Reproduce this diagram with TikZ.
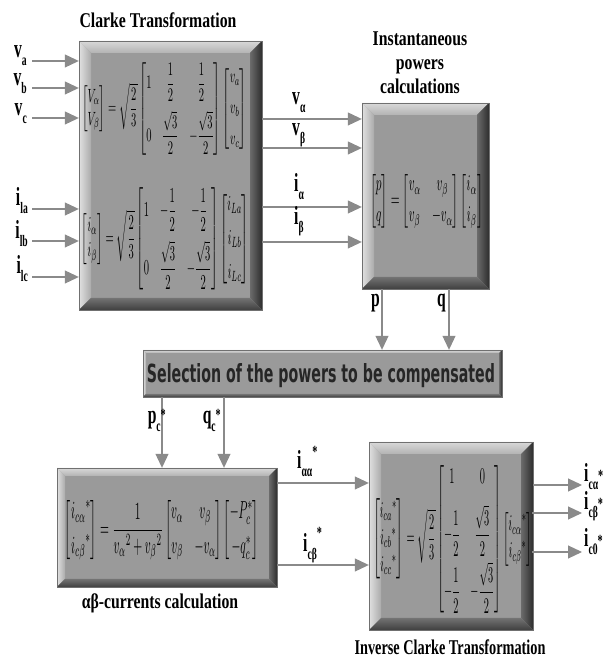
\documentclass[tikz,border=0pt]{standalone}
\usepackage{fontspec}
\setmainfont{Liberation Serif}
\newfontfamily\selfont{DejaVu Sans}
\usepackage{amsmath}
\usepackage{graphicx}
\usetikzlibrary{arrows.meta}

\definecolor{facegray}{HTML}{9A9A9A}
\definecolor{rimgray}{HTML}{707070}
\definecolor{arrgray}{HTML}{8A8A8A}

\newcommand{\squeeze}[2][0.75]{\scalebox{#1}[1]{#2}}
\newcommand{\lbl}[3]{\scalebox{0.6}[1]{\fontsize{26}{26}\selectfont\bfseries #1\raisebox{-8pt}{\fontsize{16}{16}\selectfont #2}#3}}
\newcommand{\upstar}[1]{\raisebox{#1}{\fontsize{17}{17}\selectfont *}}

\tikzset{
  bevel/.style={draw=rimgray, fill=facegray, inner sep=0pt, path picture={
    \coordinate (oNW) at (path picture bounding box.north west);
    \coordinate (oNE) at (path picture bounding box.north east);
    \coordinate (oSW) at (path picture bounding box.south west);
    \coordinate (oSE) at (path picture bounding box.south east);
    \coordinate (iNW) at ([shift={(#1,-#1)}]oNW);
    \coordinate (iNE) at ([shift={(-#1,-#1)}]oNE);
    \coordinate (iSW) at ([shift={(#1,#1)}]oSW);
    \coordinate (iSE) at ([shift={(-#1,#1)}]oSE);
    \shade[top color=black!15, bottom color=black!30] (oNW) -- (oNE) -- (iNE) -- (iNW) -- cycle;
    \shade[left color=black!12, right color=black!33] (oNW) -- (iNW) -- (iSW) -- (oSW) -- cycle;
    \shade[left color=black!58, right color=black!82] (oNE) -- (iNE) -- (iSE) -- (oSE) -- cycle;
    \shade[top color=black!55, bottom color=black!75] (oSW) -- (iSW) -- (iSE) -- (oSE) -- cycle;
  }},
  arr/.style={draw=arrgray, line width=1.1pt, -{Triangle[length=14pt,width=13pt]}},
  ttl/.style={font=\fontsize{21}{24}\selectfont\bfseries, inner sep=0pt},
  lb/.style={inner sep=0pt},
  mtx/.style={inner sep=0pt},
}

\begin{document}
\begin{tikzpicture}[x=1pt,y=1pt]
\useasboundingbox (0,0) rectangle (609,658);

% blocks
\node[bevel=12, minimum width=183, minimum height=269] (clarke) at (170.5,482.5) {};
\node[bevel=12, minimum width=127, minimum height=186] (inst) at (425.5,462) {};
\node[bevel=3, minimum width=359, minimum height=47] (sel) at (322.5,284.5) {};
\node[bevel=8, minimum width=220, minimum height=119] (abcur) at (167,130.5) {};
\node[bevel=12, minimum width=164, minimum height=188] (inv) at (451,122) {};

% equations
\node[mtx] (mclarkev) at (164.5,549) {\resizebox*{165pt}{92pt}{$\begin{bmatrix}V_\alpha\\V_\beta\end{bmatrix}=\sqrt{\dfrac{2}{3}}\begin{bmatrix}1&\dfrac12&\dfrac12\\[8pt]0&\dfrac{\sqrt3}{2}&-\dfrac{\sqrt3}{2}\end{bmatrix}\begin{bmatrix}v_a\\[4pt]v_b\\[4pt]v_c\end{bmatrix}$}};
\node[mtx] (mclarkei) at (165.5,419) {\resizebox*{167pt}{102pt}{$\begin{bmatrix}i_\alpha\\i_\beta\end{bmatrix}=\sqrt{\dfrac{2}{3}}\begin{bmatrix}1&-\dfrac12&-\dfrac12\\[8pt]0&\dfrac{\sqrt3}{2}&-\dfrac{\sqrt3}{2}\end{bmatrix}\begin{bmatrix}i_{La}\\[4pt]i_{Lb}\\[4pt]i_{Lc}\end{bmatrix}$}};
\node[mtx] (mpq) at (426.5,457) {\resizebox*{113pt}{58pt}{$\begin{bmatrix}p\\[2pt]q\end{bmatrix}=\begin{bmatrix}v_\alpha&v_\beta\\[2pt]v_\beta&-v_\alpha\end{bmatrix}\begin{bmatrix}i_\alpha\\[2pt]i_\beta\end{bmatrix}$}};
\node[mtx] (mabcur) at (162,128) {\resizebox*{194pt}{64pt}{$\begin{bmatrix}{i_{c\alpha}}^{*}\\[2pt]{i_{c\beta}}^{*}\end{bmatrix}=\dfrac{1}{{v_\alpha}^{2}+{v_\beta}^{2}}\begin{bmatrix}v_\alpha&v_\beta\\[2pt]v_\beta&-v_\alpha\end{bmatrix}\begin{bmatrix}-P_c^*\\[2pt]-q_c^*\end{bmatrix}$}};
\node[mtx] (minv) at (452.5,119) {\resizebox*{159pt}{148pt}{$\begin{bmatrix}{i_{ca}}^{*}\\{i_{cb}}^{*}\\{i_{cc}}^{*}\end{bmatrix}=\sqrt{\dfrac{2}{3}}\begin{bmatrix}1&0\\[6pt]-\dfrac12&\dfrac{\sqrt3}{2}\\[6pt]-\dfrac12&-\dfrac{\sqrt3}{2}\end{bmatrix}\begin{bmatrix}{i_{c\alpha}}^{*}\\{i_{c\beta}}^{*}\end{bmatrix}$}};
\node[mtx, anchor=base] (tsel) at (321,275) {\resizebox{348pt}{19pt}{\selfont\bfseries\color{black!85}Selection of the powers to be compensated}};

% titles
\node[ttl] (tclarke) at (158,638) {\squeeze{Clarke Transformation}};
\node[ttl] (tinst) at (420,593) {\squeeze{\begin{tabular}{@{}c@{}}Instantaneous\\powers\\calculations\end{tabular}}};
\node[ttl] (tabcur) at (160,55) {\squeeze{αβ-currents calculation}};
\node[ttl] (tinv) at (450,11) {\squeeze[0.68]{Inverse Clarke Transformation}};

% inputs
\coordinate (va) at (32,597);
\coordinate (vb) at (32,570);
\coordinate (vc) at (32,540);
\coordinate (ila) at (32,449);
\coordinate (ilb) at (32,417);
\coordinate (ilc) at (32,381);
\draw[arr] (va) -- (va -| clarke.west);
\draw[arr] (vb) -- (vb -| clarke.west);
\draw[arr] (vc) -- (vc -| clarke.west);
\draw[arr] (ila) -- (ila -| clarke.west);
\draw[arr] (ilb) -- (ilb -| clarke.west);
\draw[arr] (ilc) -- (ilc -| clarke.west);
\node[lb, anchor=base east] (lva) at ([shift={(-5,3)}]va) {\lbl{v}{a}{}};
\node[lb, anchor=base east] (lvb) at ([shift={(-5,2)}]vb) {\lbl{v}{b}{}};
\node[lb, anchor=base east] (lvc) at ([shift={(-5,2)}]vc) {\lbl{v}{c}{}};
\node[lb, anchor=base east] (lila) at ([shift={(-4,3)}]ila) {\lbl{i}{la}{}};
\node[lb, anchor=base east] (lilb) at ([shift={(-4,2)}]ilb) {\lbl{i}{lb}{}};
\node[lb, anchor=base east] (lilc) at ([shift={(-4,3)}]ilc) {\lbl{i}{lc}{}};

% clarke -> powers
\draw[arr] (clarke.east |- 0,539) -- (inst.west |- 0,539);
\draw[arr] (clarke.east |- 0,510) -- (inst.west |- 0,510);
\draw[arr] (clarke.east |- 0,451) -- (inst.west |- 0,451);
\draw[arr] (clarke.east |- 0,416) -- (inst.west |- 0,416);
\node[lb, anchor=base west] (lvalpha) at (292,553) {\lbl{v}{α}{}};
\node[lb, anchor=base west] (lvbeta) at (292,522) {\lbl{v}{β}{}};
\node[lb, anchor=base west] (lialpha) at (294,466) {\lbl{i}{α}{}};
\node[lb, anchor=base west] (libeta) at (294,433) {\lbl{i}{β}{}};

% powers -> selection -> currents
\draw[arr] (inst.south -| 382,0) -- (sel.north -| 382,0);
\draw[arr] (inst.south -| 449,0) -- (sel.north -| 449,0);
\node[lb, anchor=base east] (lp) at (380,351) {\lbl{p}{}{}};
\node[lb, anchor=base east] (lq) at (446,351) {\lbl{q}{}{}};
\draw[arr] (sel.south -| 162,0) -- (abcur.north -| 162,0);
\draw[arr] (sel.south -| 224,0) -- (abcur.north -| 224,0);
\node[lb, anchor=base east] (lpc) at (166,234) {\lbl{p}{c}{\upstar{3pt}}};
\node[lb, anchor=base east] (lqc) at (221,234) {\lbl{q}{c}{\upstar{3pt}}};

% currents -> inverse clarke
\draw[arr] (abcur.east |- 0,175) -- (inv.west |- 0,175);
\draw[arr] (abcur.east |- 0,93) -- (inv.west |- 0,93);
\node[lb, anchor=base west] (liaa) at (297,189) {\lbl{i}{αα}{\upstar{11pt}}};
\node[lb, anchor=base west] (licb) at (303,106) {\lbl{i}{cβ}{\upstar{13pt}}};

% outputs
\coordinate (oca) at (582,173);
\coordinate (ocb) at (582,145);
\coordinate (occ) at (582,106);
\draw[arr] (inv.east |- oca) -- (oca);
\draw[arr] ([xshift=-1]inv.east |- ocb) -- (ocb);
\draw[arr] ([xshift=-1]inv.east |- occ) -- (occ);
\node[lb, anchor=base west] (loca) at ([shift={(2,3)}]oca) {\lbl{i}{cα}{\upstar{0pt}}};
\node[lb, anchor=base west] (locb) at ([shift={(2,3)}]ocb) {\lbl{i}{cβ}{\upstar{0pt}}};
\node[lb, anchor=base west] (locc) at ([shift={(2,5)}]occ) {\lbl{i}{c0}{\upstar{0pt}}};
\end{tikzpicture}
\end{document}
